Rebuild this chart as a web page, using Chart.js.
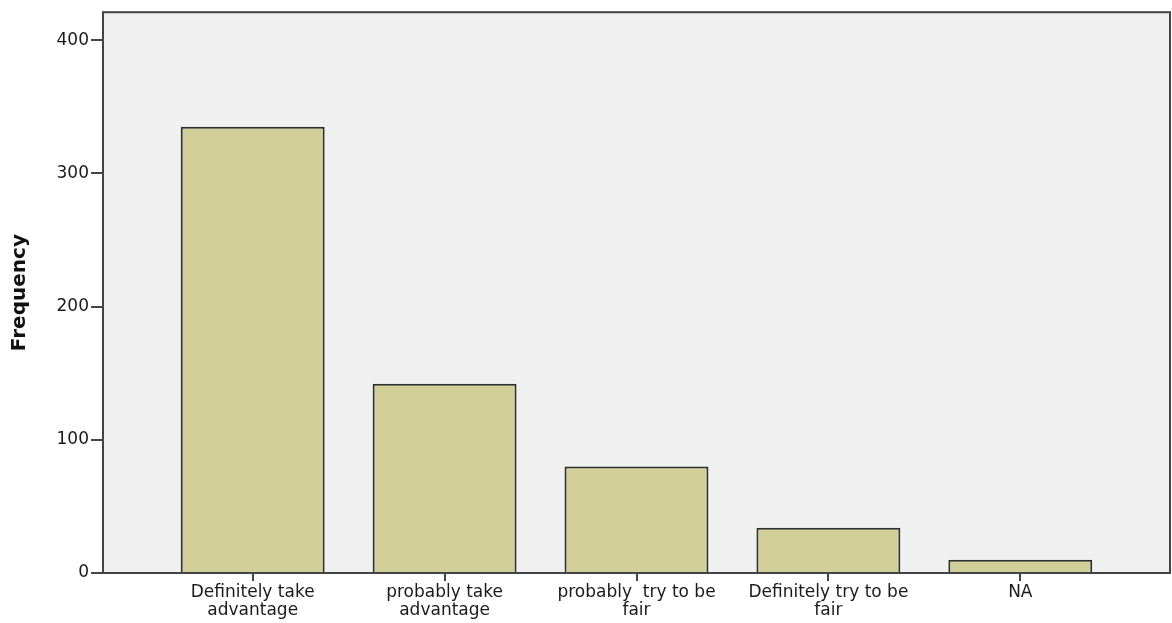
<!DOCTYPE html>
<html>
<head>
<meta charset="utf-8">
<script src="https://cdn.jsdelivr.net/npm/chart.js@4"></script>
<style>
  html, body { margin: 0; padding: 0; background: #fff; }
  #wrap { width: 1172px; height: 623px; }
</style>
</head>
<body>
<div id="wrap"><canvas id="chart"></canvas></div>
<script>
// Data
const categories = [
  ['Definitely take', 'advantage'],
  ['probably take', 'advantage'],
  ['probably  try to be', 'fair'],
  ['Definitely try to be', 'fair'],
  ['NA']
];
const frequency = [335, 142, 80, 34, 10];
const yTicks = [0, 100, 200, 300, 400];

const plotFrame = {
  id: 'plotFrame',
  beforeDraw(chart) {
    const {ctx, chartArea: a} = chart;
    ctx.save();
    ctx.fillStyle = '#f0f0f0';
    ctx.fillRect(a.left, a.top, a.right - a.left, a.bottom - a.top);
    ctx.restore();
  },
  afterDraw(chart) {
    const {ctx, chartArea: a} = chart;
    ctx.save();
    ctx.strokeStyle = '#444';
    ctx.lineWidth = 2;
    ctx.strokeRect(a.left, a.top, a.right - a.left, a.bottom - a.top);
    ctx.restore();
  }
};

new Chart(document.getElementById('chart'), {
  type: 'bar',
  data: {
    datasets: [{
      data: frequency.map((v, i) => ({x: i, y: v})),
      backgroundColor: '#d3cf98',
      borderColor: '#2e2e2e',
      borderWidth: 2,
      categoryPercentage: 1,
      barPercentage: 0.75
    }]
  },
  options: {
    responsive: true,
    maintainAspectRatio: false,
    animation: false,
    layout: {padding: {top: 9, right: 2, left: 0, bottom: 0}},
    plugins: {legend: {display: false}, tooltip: {enabled: false}},
    scales: {
      x: {
        type: 'linear',
        min: -0.78,
        max: 4.78,
        offset: false,
        afterBuildTicks(scale) {
          scale.ticks = categories.map((c, i) => ({value: i}));
        },
        afterFit(scale) { scale.height = 50; },
        border: {display: false},
        grid: {offset: false, drawOnChartArea: false, drawTicks: true, tickLength: 8, color: '#444', lineWidth: 2},
        ticks: {
          autoSkip: false,
          maxRotation: 0,
          padding: 3,
          color: '#1a1a1a',
          font: {family: 'DejaVu Sans', size: 17, lineHeight: 1.05},
          callback: (v) => categories[v]
        }
      },
      y: {
        min: 0,
        max: 421,
        afterBuildTicks(scale) {
          scale.ticks = yTicks.map(v => ({value: v}));
        },
        afterFit(scale) { scale.width = 103; },
        border: {display: false},
        grid: {drawOnChartArea: false, drawTicks: true, tickLength: 12, color: '#444', lineWidth: 2},
        ticks: {
          padding: 2,
          color: '#1a1a1a',
          font: {family: 'DejaVu Sans', size: 17}
        },
        title: {
          display: true,
          text: 'Frequency',
          color: '#111',
          font: {family: 'DejaVu Sans', size: 20, weight: 'bold'},
          padding: {top: 8, bottom: 0}
        }
      }
    }
  },
  plugins: [plotFrame]
});
</script>
</body>
</html>
